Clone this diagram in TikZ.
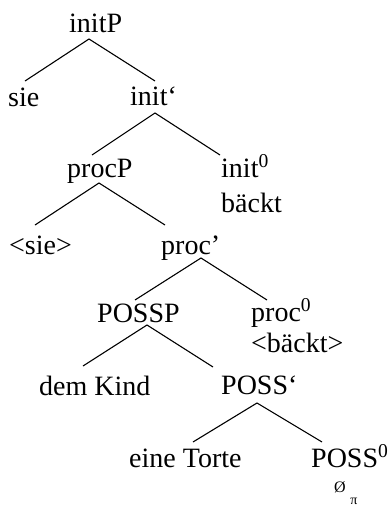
\documentclass[tikz,border=0pt]{standalone}
\usepackage{fontspec}
\setmainfont{Liberation Serif}
\begin{document}
\begin{tikzpicture}[x=1pt,y=-1pt,
  lbl/.style={anchor=base west,inner sep=0pt,font=\fontsize{28}{30}\selectfont},
  small/.style={anchor=base,inner sep=0pt,font=\fontsize{16}{18}\selectfont},
  tiny/.style={anchor=base,inner sep=0pt,font=\fontsize{14}{16}\selectfont},
  edge/.style={line width=1.1pt,black}]
\useasboundingbox (0,0) rectangle (388,507);
% labels
\node[lbl] (initP) at (69,32) {initP};
\node[lbl] (sie) at (8,106) {sie};
\node[lbl] (initbar) at (130,105) {init‘};
\node[lbl] (procP) at (67,177) {procP};
\node[lbl] (init0) at (221,177) {init\textsuperscript{0}};
\node[lbl] (baeckt) at (221,212) {bäckt};
\node[lbl] (siet) at (9,254) {<sie>};
\node[lbl] (procbar) at (161,254) {proc’};
\node[lbl] (POSSP) at (97,322) {POSSP};
\node[lbl] (proc0) at (251,321) {proc\textsuperscript{0}};
\node[lbl] (baecktt) at (251,352) {<bäckt>};
\node[lbl] (demKind) at (39,395) {dem Kind};
\node[lbl] (POSSbar) at (221,394) {POSS‘};
\node[lbl] (eineTorte) at (129,467) {eine Torte};
\node[lbl] (POSS0) at (311,467) {POSS\textsuperscript{0}};
\node[small] (empty) at (340,492) {Ø};
\node[tiny] (pi) at (354,504) {π};
% connector ends
\coordinate (initP-d) at (89,39);
\coordinate (sie-u) at (25,81);
\coordinate (initbar-u) at (155,81);
\coordinate (initbar-d) at (155,113);
\coordinate (procP-u) at (92,155);
\coordinate (init0-u) at (220,155);
\coordinate (procP-d) at (99,183);
\coordinate (siet-u) at (35,225);
\coordinate (procbar-u) at (165,225);
\coordinate (procbar-d) at (201,258);
\coordinate (POSSP-u) at (135,300);
\coordinate (proc0-u) at (267,300);
\coordinate (POSSP-d) at (147,325);
\coordinate (demKind-u) at (83,366);
\coordinate (POSSbar-u) at (213,367);
\coordinate (POSSbar-d) at (257,403);
\coordinate (eineTorte-u) at (193,442);
\coordinate (POSS0-u) at (322,442);
% connectors
\draw[edge] (sie-u) -- (initP-d) -- (initbar-u);
\draw[edge] (procP-u) -- (initbar-d) -- (init0-u);
\draw[edge] (siet-u) -- (procP-d) -- (procbar-u);
\draw[edge] (POSSP-u) -- (procbar-d) -- (proc0-u);
\draw[edge] (demKind-u) -- (POSSP-d) -- (POSSbar-u);
\draw[edge] (eineTorte-u) -- (POSSbar-d) -- (POSS0-u);
\end{tikzpicture}
\end{document}
